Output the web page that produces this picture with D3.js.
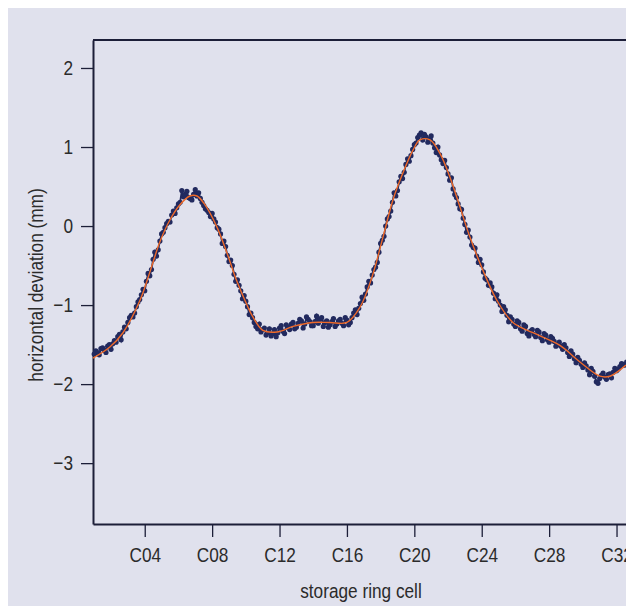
<!DOCTYPE html>
<html lang="en">
<head>
<meta charset="UTF-8">
<title>Horizontal deviation along the storage ring</title>
<script src="https://d3js.org/d3.v7.min.js"></script>
<style>
  body { margin: 0; background: #fff; }
  svg { display: block; }
  text { font-family: "Liberation Sans", Arial, sans-serif; fill: #2b2b2b; }
  .axis path, .axis line { stroke: #1c1e38; }
</style>
</head>
<body>
<div id="chart"></div>
<script>
// tick labels on the x axis (cell numbers)
const cellTicks = [4, 8, 12, 16, 20, 24, 28, 32];
const cellLabels = ["C04", "C08", "C12", "C16", "C20", "C24", "C28", "C32"];
const devTicks = [-3, -2, -1, 0, 1, 2];

// measured orbit: [cell, deviation in mm]
const measured = [
  [1.0,-1.62],[1.2,-1.60],[1.4,-1.55],[1.6,-1.57],[1.8,-1.52],[2.0,-1.56],[2.2,-1.45],[2.4,-1.40],
  [2.6,-1.44],[2.8,-1.28],[3.0,-1.22],[3.2,-1.13],[3.4,-1.10],[3.6,-0.96],[3.8,-0.87],[4.0,-0.82],
  [4.2,-0.60],[4.4,-0.55],[4.6,-0.33],[4.8,-0.30],[5.0,-0.10],[5.2,-0.02],[5.4,0.06],[5.6,0.14],
  [5.8,0.16],[6.0,0.28],[6.2,0.45],[6.4,0.40],[6.6,0.36],[6.8,0.33],[7.0,0.46],[7.2,0.42],
  [7.4,0.30],[7.6,0.22],[7.8,0.17],[8.0,0.16],[8.2,0.05],[8.4,-0.04],[8.6,-0.22],[8.8,-0.26],
  [9.0,-0.45],[9.2,-0.50],[9.4,-0.70],[9.6,-0.75],[9.8,-0.92],[10.0,-0.95],[10.2,-1.12],[10.4,-1.16],
  [10.6,-1.27],[10.8,-1.24],[11.0,-1.31],[11.2,-1.38],[11.4,-1.30],[11.6,-1.36],[11.8,-1.40],[12.0,-1.29],
  [12.2,-1.33],[12.4,-1.25],[12.6,-1.31],[12.8,-1.22],[13.0,-1.28],[13.2,-1.18],[13.4,-1.29],[13.6,-1.15],
  [13.8,-1.21],[14.0,-1.26],[14.2,-1.14],[14.4,-1.18],[14.6,-1.27],[14.8,-1.20],[15.0,-1.25],[15.2,-1.17],
  [15.4,-1.24],[15.6,-1.18],[15.8,-1.26],[16.0,-1.19],[16.2,-1.22],[16.4,-1.10],[16.6,-1.12],[16.8,-0.98],
  [17.0,-0.94],[17.2,-0.77],[17.4,-0.72],[17.6,-0.55],[17.8,-0.46],[18.0,-0.22],[18.2,-0.13],[18.4,0.09],
  [18.6,0.19],[18.8,0.42],[19.0,0.45],[19.2,0.63],[19.4,0.68],[19.6,0.85],[19.8,0.89],[20.0,1.03],
  [20.2,1.12],[20.4,1.18],[20.6,1.16],[20.8,1.06],[21.0,1.14],[21.2,0.99],[21.4,1.00],[21.6,0.84],
  [21.8,0.83],[22.0,0.66],[22.2,0.61],[22.4,0.40],[22.6,0.28],[22.8,0.21],[23.0,0.02],[23.2,-0.05],
  [23.4,-0.24],[23.6,-0.28],[23.8,-0.46],[24.0,-0.49],[24.2,-0.66],[24.4,-0.75],[24.6,-0.77],[24.8,-0.92],
  [25.0,-0.95],[25.2,-1.08],[25.4,-1.06],[25.6,-1.21],[25.8,-1.18],[26.0,-1.27],[26.2,-1.22],[26.4,-1.33],
  [26.6,-1.27],[26.8,-1.39],[27.0,-1.31],[27.2,-1.40],[27.4,-1.34],[27.6,-1.45],[27.8,-1.38],[28.0,-1.47],
  [28.2,-1.42],[28.4,-1.52],[28.6,-1.47],[28.8,-1.56],[29.0,-1.54],[29.2,-1.65],[29.4,-1.62],[29.6,-1.73],
  [29.8,-1.70],[30.0,-1.79],[30.2,-1.77],[30.4,-1.88],[30.6,-1.84],[30.8,-1.97],[31.0,-1.93],[31.2,-1.86],
  [31.4,-1.94],[31.6,-1.87],[31.8,-1.85],[32.0,-1.83],[32.2,-1.78],[32.4,-1.75],[32.6,-1.72]
];

// second reading of the beam position monitors, between the first ones
const measuredB = [
  [1.1,-1.58],[1.3,-1.63],[1.5,-1.54],[1.7,-1.60],[1.9,-1.50],[2.1,-1.49],[2.3,-1.47],[2.5,-1.37],
  [2.7,-1.34],[2.9,-1.30],[3.1,-1.16],[3.3,-1.15],[3.5,-1.02],[3.7,-0.93],[3.9,-0.80],[4.1,-0.70],
  [4.3,-0.63],[4.5,-0.42],[4.7,-0.38],[4.9,-0.19],[5.1,-0.08],[5.3,0.03],[5.5,0.05],[5.7,0.19],
  [5.9,0.23],[6.1,0.30],[6.3,0.37],[6.5,0.44],[6.7,0.35],[6.9,0.40],[7.1,0.38],[7.3,0.35],
  [7.5,0.26],[7.7,0.20],[7.9,0.12],[8.1,0.09],[8.3,-0.02],[8.5,-0.10],[8.7,-0.19],[8.9,-0.37],
  [9.1,-0.43],[9.3,-0.61],[9.5,-0.68],[9.7,-0.82],[9.9,-0.88],[10.1,-1.02],[10.3,-1.10],[10.5,-1.22],
  [10.7,-1.30],[10.9,-1.34],[11.1,-1.29],[11.3,-1.35],[11.5,-1.39],[11.7,-1.31],[11.9,-1.35],[12.1,-1.26],
  [12.3,-1.36],[12.5,-1.28],[12.7,-1.24],[12.9,-1.30],[13.1,-1.23],[13.3,-1.20],[13.5,-1.24],[13.7,-1.18],
  [13.9,-1.26],[14.1,-1.21],[14.3,-1.23],[14.5,-1.16],[14.7,-1.22],[14.9,-1.28],[15.1,-1.21],[15.3,-1.27],
  [15.5,-1.20],[15.7,-1.23],[15.9,-1.16],[16.1,-1.25],[16.3,-1.16],[16.5,-1.06],[16.7,-1.04],[16.9,-0.90],
  [17.1,-0.86],[17.3,-0.70],[17.5,-0.62],[17.7,-0.52],[17.9,-0.33],[18.1,-0.18],[18.3,0.00],[18.5,0.12],
  [18.7,0.30],[18.9,0.38],[19.1,0.56],[19.3,0.60],[19.5,0.78],[19.7,0.82],[19.9,0.97],[20.1,1.05],
  [20.3,1.15],[20.5,1.09],[20.7,1.13],[20.9,1.10],[21.1,1.05],[21.3,0.93],[21.5,0.90],[21.7,0.79],
  [21.9,0.74],[22.1,0.58],[22.3,0.47],[22.5,0.36],[22.7,0.22],[22.9,0.10],[23.1,-0.08],[23.3,-0.14],
  [23.5,-0.27],[23.7,-0.38],[23.9,-0.42],[24.1,-0.58],[24.3,-0.68],[24.5,-0.72],[24.7,-0.85],[24.9,-0.87],
  [25.1,-1.00],[25.3,-1.02],[25.5,-1.13],[25.7,-1.15],[25.9,-1.24],[26.1,-1.20],[26.3,-1.30],[26.5,-1.25],
  [26.7,-1.36],[26.9,-1.33],[27.1,-1.37],[27.3,-1.32],[27.5,-1.41],[27.7,-1.36],[27.9,-1.44],[28.1,-1.40],
  [28.3,-1.46],[28.5,-1.50],[28.7,-1.52],[28.9,-1.50],[29.1,-1.60],[29.3,-1.58],[29.5,-1.68],[29.7,-1.66],
  [29.9,-1.75],[30.1,-1.73],[30.3,-1.82],[30.5,-1.80],[30.7,-1.90],[30.9,-1.99],[31.1,-1.89],[31.3,-1.91],
  [31.5,-1.88],[31.7,-1.92],[31.9,-1.80],[32.1,-1.81],[32.3,-1.74],[32.5,-1.76]
];

// smooth fit through the measurement
const fitted = [
  [0.93,-1.67],[1.93,-1.53],[2.71,-1.35],[3.72,-0.94],[4.31,-0.58],[4.90,-0.20],[5.50,0.08],
  [6.09,0.27],[6.68,0.38],[7.10,0.38],[7.57,0.27],[8.28,-0.01],[8.88,-0.34],[9.47,-0.70],
  [10.07,-1.00],[10.42,-1.15],[11.01,-1.32],[11.85,-1.34],[12.80,-1.27],[13.98,-1.22],[14.99,-1.22],
  [16.00,-1.22],[16.77,-1.03],[17.48,-0.65],[18.14,-0.14],[18.73,0.33],[19.32,0.67],[19.92,0.96],
  [20.33,1.09],[20.93,1.09],[21.52,0.92],[22.11,0.62],[22.71,0.24],[23.30,-0.14],[24.07,-0.56],
  [24.90,-0.94],[25.85,-1.22],[27.04,-1.35],[28.64,-1.51],[29.83,-1.72],[31.02,-1.90],[31.61,-1.90],
  [32.56,-1.76]
];

const W = 626, H = 606;
const m = { left: 93, top: 40, right: 629, bottom: 524 };
const squeeze = 0.84; // the original type is a narrow face

const svg = d3.select("#chart").append("svg")
  .attr("width", W).attr("height", H);

// panel background
svg.append("rect")
  .attr("x", 8).attr("y", 8)
  .attr("width", W - 8).attr("height", H - 8)
  .attr("fill", "#e0e1ed");

const x = d3.scaleLinear().domain([0.93, 32.74]).range([m.left, m.right]);
const y = d3.scaleLinear().domain([-3.77, 2.354]).range([m.bottom, m.top]);

// frame top line
svg.append("line")
  .attr("x1", m.left).attr("x2", m.right)
  .attr("y1", m.top).attr("y2", m.top)
  .attr("stroke", "#1c1e38").attr("stroke-width", 2);

// x axis
const xAxis = svg.append("g")
  .attr("class", "axis")
  .attr("transform", `translate(0,${m.bottom})`)
  .call(d3.axisBottom(x).tickValues(cellTicks)
    .tickFormat((d, i) => cellLabels[i]).tickSize(13).tickPadding(10).tickSizeOuter(0));
xAxis.select(".domain").attr("stroke-width", 2);
xAxis.selectAll(".tick line").attr("stroke-width", 1.3);
xAxis.selectAll("text").style("font-size", "20.5px").attr("fill", "#2b2b2b");

// y axis
const yAxis = svg.append("g")
  .attr("class", "axis")
  .attr("transform", `translate(${m.left},0)`)
  .call(d3.axisLeft(y).tickValues(devTicks).tickFormat(d3.format("d"))
    .tickSize(12).tickPadding(8).tickSizeOuter(0));
yAxis.select(".domain").attr("stroke-width", 2);
yAxis.selectAll(".tick line").attr("stroke-width", 1.3);
yAxis.selectAll("text").style("font-size", "20.5px").attr("fill", "#2b2b2b");

// axis titles
svg.append("text")
  .attr("x", 361).attr("y", 598)
  .attr("text-anchor", "middle")
  .style("font-size", "20.5px")
  .text("storage ring cell");

svg.append("text")
  .attr("transform", "translate(43,285) rotate(-90)")
  .attr("text-anchor", "middle")
  .style("font-size", "20.5px")
  .text("horizontal deviation (mm)");

// narrow all the text
svg.selectAll("text").each(function () {
  const len = this.getComputedTextLength();
  d3.select(this).attr("textLength", len * squeeze).attr("lengthAdjust", "spacingAndGlyphs");
});

// measured points with connecting line
const allPoints = measured.concat(measuredB).sort((a, b) => a[0] - b[0]);
const plot = svg.append("g");
plot.append("path")
  .datum(allPoints)
  .attr("fill", "none")
  .attr("stroke", "#222a5f")
  .attr("stroke-width", 1.8)
  .attr("d", d3.line().x(d => x(d[0])).y(d => y(d[1])));

plot.selectAll("circle")
  .data(allPoints)
  .enter().append("circle")
  .attr("cx", d => x(d[0]))
  .attr("cy", d => y(d[1]))
  .attr("r", 2.6)
  .attr("fill", "#222a5f");

// fitted curve
plot.append("path")
  .datum(fitted)
  .attr("fill", "none")
  .attr("stroke", "#ee6a2a")
  .attr("stroke-width", 1.4)
  .attr("d", d3.line().curve(d3.curveCatmullRom).x(d => x(d[0])).y(d => y(d[1])));
</script>
</body>
</html>
